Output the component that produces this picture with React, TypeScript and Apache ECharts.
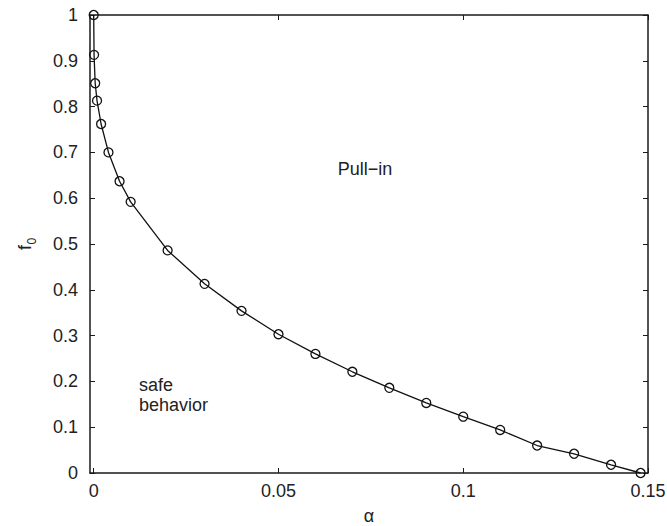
import React, { useEffect, useRef } from "react";
import * as echarts from "echarts";

const alphaValues = [0, 0.0001, 0.0004, 0.0009, 0.002, 0.004, 0.007, 0.01, 0.02, 0.03, 0.04, 0.05, 0.06, 0.07, 0.08, 0.09, 0.1, 0.11, 0.12, 0.13, 0.14, 0.148];
const f0Values = [1, 0.913, 0.851, 0.813, 0.762, 0.7, 0.637, 0.592, 0.486, 0.413, 0.354, 0.303, 0.26, 0.221, 0.186, 0.153, 0.123, 0.094, 0.06, 0.042, 0.018, 0];
const xTicks = [0, 0.05, 0.1, 0.15];

const FONT = "'Liberation Sans', Arial, sans-serif";
const AXIS_COLOR = "#1a1a1a";

export default function App() {
  const ref = useRef<HTMLDivElement>(null);
  useEffect(() => {
    document.body.style.margin = "0";
    if (!ref.current) return;
    const chart = echarts.init(ref.current, null, { renderer: "svg" });
    const axisLine = { show: true, onZero: false, lineStyle: { color: AXIS_COLOR, width: 1.5 } };
    const tick = { show: true, inside: true, length: 5, lineStyle: { color: AXIS_COLOR, width: 1 } };
    chart.setOption({
      animation: false,
      backgroundColor: "#fff",
      grid: { left: 90, right: 19, top: 15, bottom: 53, containLabel: false, outerBoundsMode: "none" },
      xAxis: [
        {
          type: "value", min: -0.001, max: 0.15, position: "bottom",
          axisLine, splitLine: { show: false },
          axisTick: { ...tick, customValues: xTicks },
          axisLabel: { customValues: xTicks, margin: 9, fontSize: 18, fontFamily: FONT, color: "#222" },
        },
        {
          type: "value", min: -0.001, max: 0.15, position: "top",
          axisLine, splitLine: { show: false },
          axisTick: { ...tick, customValues: xTicks },
          axisLabel: { show: false },
        },
      ],
      yAxis: [
        {
          type: "value", min: 0, max: 1, interval: 0.1, position: "left",
          axisLine, splitLine: { show: false }, axisTick: tick,
          axisLabel: { margin: 12, fontSize: 18, fontFamily: FONT, color: "#222" },
        },
        {
          type: "value", min: 0, max: 1, interval: 0.1, position: "right",
          axisLine, splitLine: { show: false }, axisTick: tick,
          axisLabel: { show: false },
        },
      ],
      series: [
        {
          type: "line",
          data: alphaValues.map((a, i) => [a, f0Values[i]]),
          symbol: "circle",
          symbolSize: 9,
          showSymbol: true,
          lineStyle: { color: "#111", width: 1.3 },
          itemStyle: { color: "rgba(0,0,0,0)", borderColor: "#111", borderWidth: 1.3 },
          emphasis: { disabled: true },
        },
      ],
      graphic: [
        {
          type: "text", x: 365, y: 169,
          style: { text: "Pull\u2212in", font: `18px ${FONT}`, fill: "#222", align: "center", verticalAlign: "middle" },
        },
        {
          type: "text", x: 139, y: 395,
          style: { text: "safe\nbehavior", font: `18px ${FONT}`, fill: "#222", align: "left", verticalAlign: "middle", lineHeight: 20 },
        },
        {
          type: "text", x: 369, y: 516,
          style: { text: "\u03b1", font: `18px ${FONT}`, fill: "#222", align: "center", verticalAlign: "middle" },
        },
        {
          type: "group", x: 25, y: 244, rotation: Math.PI / 2,
          children: [
            { type: "text", x: -6, y: 0, style: { text: "f", font: `18px ${FONT}`, fill: "#222", align: "left", verticalAlign: "middle" } },
            { type: "text", x: -0.5, y: 7, style: { text: "0", font: `12px ${FONT}`, fill: "#222", align: "left", verticalAlign: "middle" } },
          ],
        },
      ],
    });
    return () => chart.dispose();
  }, []);
  return <div ref={ref} style={{ width: 667, height: 526 }} />;
}
